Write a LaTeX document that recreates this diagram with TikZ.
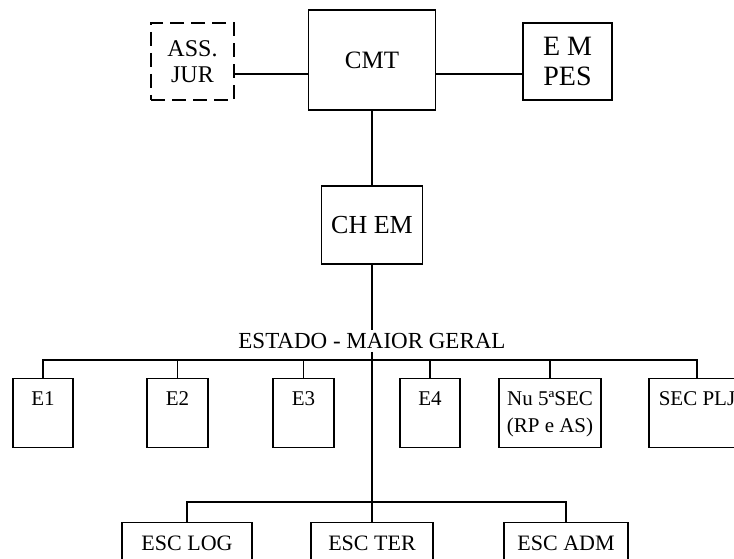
\documentclass[tikz,border=0pt]{standalone}
\usepackage{fontspec}
\setmainfont{Liberation Serif}
\usetikzlibrary{positioning}

\begin{document}
\begin{tikzpicture}[
x=1pt, y=-1pt,
every node/.style={font=\fontsize{22}{26}\selectfont},
box/.style={rectangle, draw, line width=1.3pt, align=center},
head/.style={box, minimum height=77pt},
staff/.style={box, anchor=north, text height=19pt, text depth=34pt, inner ysep=8pt, inner xsep=3pt, font=\fontsize{21}{27}\selectfont},
school/.style={box, anchor=north, text height=20pt, text depth=30pt, inner ysep=8pt},
line/.style={line width=1.3pt}
]
\useasboundingbox (0,0) rectangle (734,559);

% Nodes
\node[box, minimum width=127pt, minimum height=100pt, font=\fontsize{25}{28}\selectfont] (cmt) at (372,60) {CMT};
\node[head, dash pattern=on 14pt off 7pt, minimum width=83pt, font=\fontsize{24}{26}\selectfont] (assjur) at (192.5,61.5) {ASS.\\JUR};
\node[head, minimum width=89pt, font=\fontsize{28}{30}\selectfont] (empes) at (567.5,61.5) {E M\\PES};
\node[box, minimum width=101pt, minimum height=78pt, font=\fontsize{26}{28}\selectfont] (chem) at (372,225) {CH EM};
\node[font=\fontsize{23}{26}\selectfont, inner sep=3pt] (emg) at (372,341) {ESTADO - MAIOR GERAL};

\node[staff, minimum width=60pt] (e1) at (43,378) {E1};
\node[staff, minimum width=61pt] (e2) at (177.5,378) {E2};
\node[staff, minimum width=61pt] (e3) at (303.5,378) {E3};
\node[staff, minimum width=60pt] (e4) at (430,378) {E4};
\node[staff, minimum width=102pt, text height=46pt, text depth=7pt] (nu) at (550,378) {Nu 5ªSEC\\(RP e AS)};
\node[staff, minimum width=96pt] (secplj) at (697,378) {SEC PLJ};

\node[school, minimum width=130pt] (esclog) at (187,522) {ESC LOG};
\node[school, minimum width=122pt] (escter) at (372,522) {ESC TER};
\node[school, minimum width=124pt] (escadm) at (566,522) {ESC ADM};

\coordinate (hline) at (372,74);
\coordinate (staffbus) at (372,360);
\coordinate (escbus) at (372,502);

% Connections
\draw[line] (assjur.east |- hline) -- (cmt.west |- hline);
\draw[line] (cmt.east |- hline) -- (empes.west |- hline);
\draw[line] (cmt) -- (chem);
\draw[line] (chem) -- (emg);
\draw[line] (emg) -- (escter);
\draw[line] (e1.north) |- (staffbus) -| (secplj.north);
\foreach \n in {e2,e3,e4,nu}
  \draw[line] (\n.north) -- (\n.north |- staffbus);
\draw[line] (esclog.north) |- (escbus) -| (escadm.north);

\end{tikzpicture}
\end{document}
